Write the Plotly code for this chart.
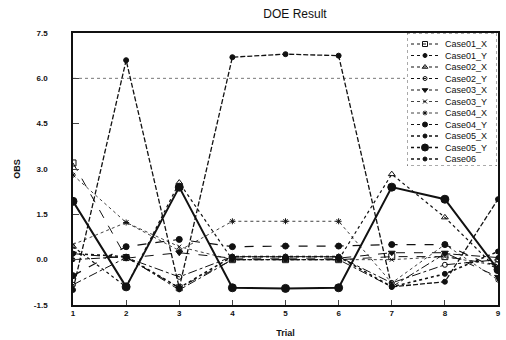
import plotly.graph_objects as go

trials = [1, 2, 3, 4, 5, 6, 7, 8, 9]
series_names = ["Case01_X", "Case01_Y", "Case02_X", "Case02_Y", "Case03_X", "Case03_Y",
                "Case04_X", "Case04_Y", "Case05_X", "Case05_Y", "Case06"]

case01_x = [3.2, 0.07, -0.93, 0.0, 0.0, 0.0, 0.1, 0.1, -0.17]
case01_y = [0.0, 0.1, -1.0, 0.0, 0.0, 0.0, -0.9, 0.2, 0.07]
case02_x = [0.43, -0.9, 2.55, 0.0, 0.0, 0.0, 2.83, 1.4, -0.33]
case02_y = [-0.83, 0.07, -0.57, 0.1, 0.1, 0.1, -0.77, -0.17, 0.0]
case03_x = [0.2, 0.05, 0.23, 0.05, 0.05, 0.05, 0.23, 0.23, -0.57]
case03_y = [0.5, 1.23, 0.43, 0.0, 0.0, 0.0, 0.0, 0.1, -0.2]
case04_x = [2.8, 1.23, 0.3, 1.27, 1.27, 1.27, -0.77, 0.5, -0.67]
case04_y = [-0.53, 0.43, 0.67, 0.43, 0.45, 0.45, 0.5, 0.5, -0.3]
case05_x = [0.2, 0.1, -0.93, 0.1, 0.1, 0.1, -0.9, -0.47, 0.27]
case05_y = [1.93, -0.9, 2.4, -0.93, -0.95, -0.93, 2.4, 2.0, -0.33]
case06 = [-1.0, 6.6, -0.93, 6.7, 6.8, 6.75, -0.9, -0.73, 2.0]

values = [case01_x, case01_y, case02_x, case02_y, case03_x, case03_y,
          case04_x, case04_y, case05_x, case05_y, case06]

y_ticks = [-1.5, 0.0, 1.5, 3.0, 4.5, 6.0, 7.5]
y_ticktext = ["-1.5", "0.0", "1.5", "3.0", "4.5", "6.0", "7.5"]

INK = "#111111"
styles = [
    dict(dash="dash", width=1, symbol="square-open", size=6),
    dict(dash="dashdot", width=1, symbol="circle", size=4),
    dict(dash="dot", width=1.2, symbol="triangle-up-open", size=6),
    dict(dash="dashdot", width=1, symbol="circle-open", size=5),
    dict(dash="dash", width=1, symbol="triangle-down", size=6),
    dict(dash="dot", width=0.8, symbol="x-thin-open", size=4),
    dict(dash="dot", width=0.8, symbol="asterisk-open", size=5),
    dict(dash="dash", width=1.2, symbol="circle", size=6),
    dict(dash="dot", width=1.6, symbol="circle", size=5),
    dict(dash="solid", width=2, symbol="circle", size=8),
    dict(dash="5px,2px", width=1.3, symbol="circle", size=5),
]

fig = go.Figure()
for name, vals, st in zip(series_names, values, styles):
    fig.add_trace(go.Scatter(
        x=trials, y=vals, name=name, mode="lines+markers", showlegend=False,
        line=dict(color=INK, width=st["width"], dash=st["dash"]),
        marker=dict(symbol=st["symbol"], size=st["size"], color=INK,
                    line=dict(color=INK, width=1)),
    ))

# ---- custom compact legend (pixel-like coordinates on a hidden overlay axis) ----
LX0, LX1, LY0, LY1 = 407, 497, 33, 166
row0, row_step = 44, 11.5
fig.add_trace(go.Scatter(
    x=[LX0, LX1, LX1, LX0, LX0], y=[LY0, LY0, LY1, LY1, LY0],
    xaxis="x2", yaxis="y2", mode="lines", fill="toself", fillcolor="white",
    line=dict(color="#555555", width=1, dash="dot"), showlegend=False, hoverinfo="skip"))
for i, (name, st) in enumerate(zip(series_names, styles)):
    ry = row0 + row_step * i
    fig.add_trace(go.Scatter(
        x=[411, 439], y=[ry, ry], xaxis="x2", yaxis="y2", mode="lines",
        line=dict(color=INK, width=min(st["width"], 1.5), dash="dot"),
        showlegend=False, hoverinfo="skip"))
    fig.add_trace(go.Scatter(
        x=[425], y=[ry], xaxis="x2", yaxis="y2", mode="markers",
        marker=dict(symbol=st["symbol"], size=max(st["size"] - 1, 4), color=INK,
                    line=dict(color=INK, width=1)),
        showlegend=False, hoverinfo="skip"))
    fig.add_annotation(x=443, y=ry, xref="x2", yref="y2", text=name, showarrow=False,
                       xanchor="left", yanchor="middle", font=dict(size=9, color=INK))

PL, PR, PT, PB = 73, 498, 33, 305
fig.update_layout(
    width=506, height=340,
    margin=dict(l=PL, r=506 - PR, t=PT, b=340 - PB),
    paper_bgcolor="white", plot_bgcolor="white",
    font=dict(family="Liberation Sans, Arial, sans-serif", color=INK),
    title=dict(text="DOE Result", x=0.583, xanchor="center", y=0.958, yanchor="middle",
               font=dict(size=12, color=INK), automargin=False),
    showlegend=False,
    xaxis=dict(range=[1, 9], tickvals=trials, ticks="inside", ticklen=5,
               showgrid=False, zeroline=False, showline=True, linecolor=INK,
               linewidth=1.5, mirror=True, ticklabeloverflow="allow", automargin=False,
               tickfont=dict(size=8, color=INK, weight="bold"),
               title=dict(text="<b>Trial</b>", font=dict(size=9), standoff=12)),
    yaxis=dict(range=[-1.5, 7.5], tickvals=y_ticks, ticktext=y_ticktext,
               ticks="inside", ticklen=6, showgrid=False, zeroline=False,
               showline=True, linecolor=INK, linewidth=1.5, mirror=True, automargin=False,
               tickfont=dict(size=8, color=INK, weight="bold"), ticklabelstandoff=22,
               title=dict(text="<b>OBS</b>", font=dict(size=9), standoff=12)),
    xaxis2=dict(domain=[(LX0 - PL) / (PR - PL), (LX1 - PL) / (PR - PL)], range=[LX0, LX1],
                anchor="y2", visible=False, fixedrange=True),
    yaxis2=dict(domain=[(PB - LY1) / (PB - PT), (PB - LY0) / (PB - PT)], range=[LY1, LY0],
                anchor="x2", visible=False, fixedrange=True),
    shapes=[dict(type="line", xref="paper", yref="y", x0=0, x1=(LX0 - 2 - PL) / (PR - PL),
                 y0=6.0, y1=6.0, line=dict(color="#777777", width=1, dash="dot"),
                 layer="below")],
)

fig.write_html("out.html", config={"displayModeBar": False},
               post_script="document.body.style.margin='0';")
